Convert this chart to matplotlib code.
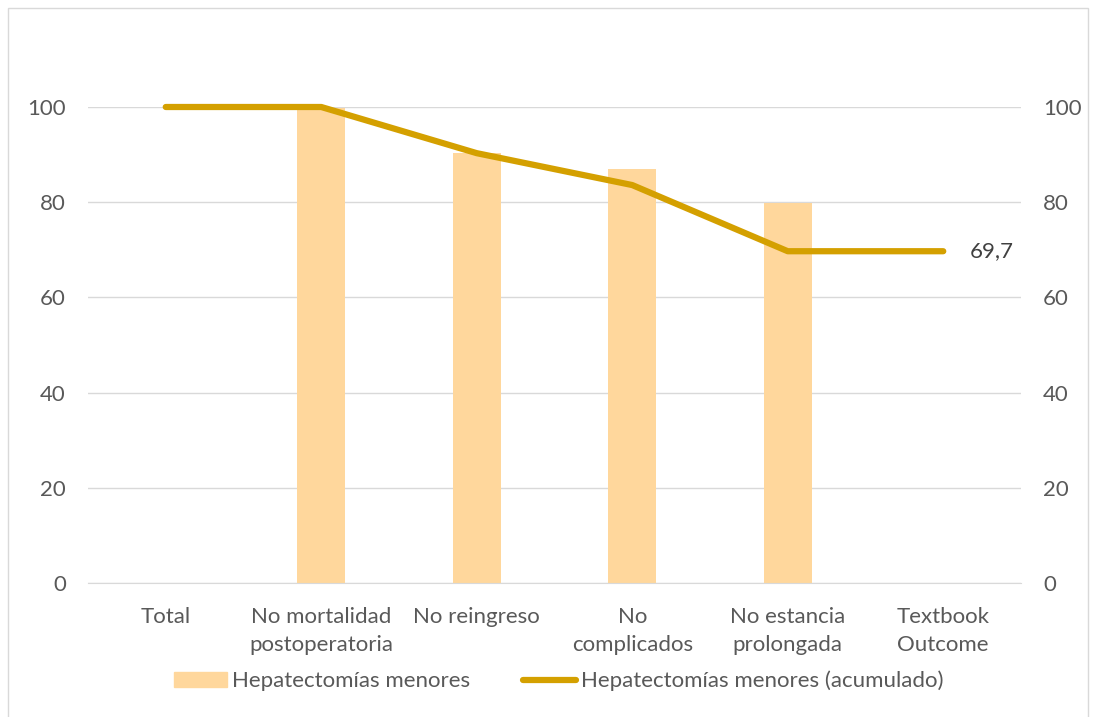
import matplotlib.pyplot as plt
from matplotlib.patches import Rectangle
from matplotlib.lines import Line2D

# datos
categorias = ["Total", "No mortalidad\npostoperatoria", "No reingreso",
              "No\ncomplicados", "No estancia\nprolongada", "Textbook\nOutcome"]
barras = [None, 99.8, 90.4, 87.0, 79.8, None]
acumulado = [100, 100, 90.3, 83.6, 69.7, 69.7]
etiqueta_final = "69,7"
ticks_y = [0, 20, 40, 60, 80, 100]

color_barra = "#FFD79C"
color_linea = "#D4A000"
color_texto = "#595959"
fs = 16

plt.rcParams['font.family'] = ['Lato', 'DejaVu Sans']

fig = plt.figure(figsize=(10.93, 7.17), dpi=100)
ax = fig.add_axes([88 / 1093, 1 - 583 / 717, (1021 - 88) / 1093, (583 - 107) / 717])

x = list(range(len(categorias)))
bx = [i for i, v in zip(x, barras) if v is not None]
bv = [v for v in barras if v is not None]
ax.bar(bx, bv, width=0.31, color=color_barra, zorder=2)
ax.plot(x, acumulado, color=color_linea, lw=4.5, solid_capstyle="round",
        clip_on=False, zorder=3)
ax.text(x[-1] + 0.17, acumulado[-1], etiqueta_final, ha="left", va="center",
        fontsize=fs, color="#404040")

ax.set_xlim(-0.5, len(categorias) - 0.5)
ax.set_ylim(0, 100)
ax.set_yticks(ticks_y)
ax.grid(axis="y", color="#D9D9D9", lw=1, zorder=0)
for s in ["top", "left", "right"]:
    ax.spines[s].set_visible(False)
ax.spines["bottom"].set_color("#D9D9D9")
ax.set_xticks(x)
ax.set_xticklabels(categorias, fontsize=fs, color=color_texto, linespacing=1.5)
ax.tick_params(axis="x", length=0, pad=17)
ax.tick_params(axis="y", length=0, pad=16, labelsize=fs, labelcolor=color_texto)

# eje derecho
ax2 = ax.twinx()
ax2.set_ylim(0, 100)
ax2.set_yticks(ticks_y)
for s in ["top", "left", "right", "bottom"]:
    ax2.spines[s].set_visible(False)
ax2.tick_params(axis="y", length=0, pad=16, labelsize=fs, labelcolor=color_texto)

# leyenda
handles = [Rectangle((0, 0), 1, 1, color=color_barra),
           Line2D([0], [0], color=color_linea, lw=4.5, solid_capstyle="round")]
fig.legend(handles, ["Hepatectomías menores", "Hepatectomías menores (acumulado)"],
           loc="center", bbox_to_anchor=(0.511, 1 - 681 / 717), ncol=2, frameon=False,
           fontsize=fs, labelcolor=color_texto, handlelength=2.4, handletextpad=0.2,
           columnspacing=2.4)

# borde del gráfico
fig.patches.append(Rectangle((8 / 1093, -0.01), 1080 / 1093, 1 - 8 / 717 + 0.01,
                             transform=fig.transFigure, fill=False,
                             edgecolor="#D9D9D9", lw=1))

fig.savefig("out.png", dpi=100)
